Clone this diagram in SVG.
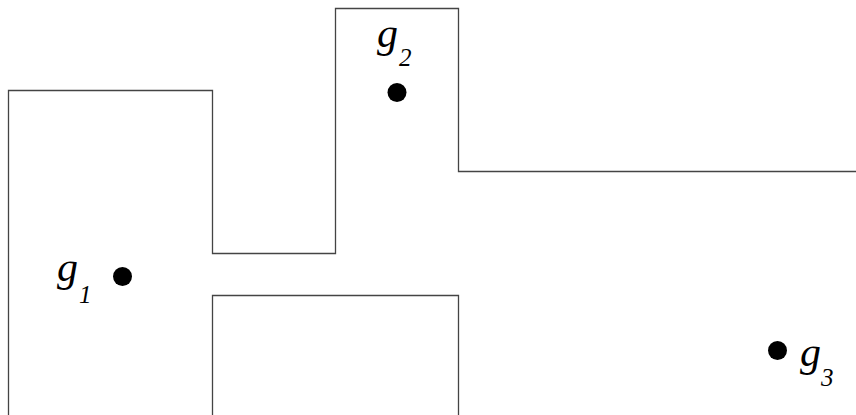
<svg xmlns="http://www.w3.org/2000/svg" width="856" height="415" viewBox="0 0 856 415">
<style>
.wall{fill:none;stroke:#444;stroke-width:1.3}
.pt{fill:#000}
.lbl{font-family:"Liberation Serif","Times New Roman",serif;font-style:italic;fill:#000}
.g{font-size:42px}
.sub{font-size:25px}
</style>
<rect width="856" height="415" fill="#fff"/>
<g id="walls">
<path class="wall" d="M8.5,415 V90.5 H212.5 V253.5 H335.5 V8.5 H458.5 V171.5 H856"/>
<path class="wall" d="M212.5,415 V295.5 H458.5 V415"/>
</g>
<g id="g1">
<circle class="pt" cx="122.5" cy="276.5" r="9.5"/>
<text class="lbl g" x="57" y="281">g</text>
<text class="lbl sub" x="79" y="303">1</text>
</g>
<g id="g2">
<circle class="pt" cx="397" cy="92.5" r="9.5"/>
<text class="lbl g" x="377" y="47">g</text>
<text class="lbl sub" x="399" y="66" font-style="normal">2</text>
</g>
<g id="g3">
<circle class="pt" cx="777.5" cy="350.5" r="9.5"/>
<text class="lbl g" x="800" y="366">g</text>
<text class="lbl sub" x="821" y="386">3</text>
</g>
</svg>
